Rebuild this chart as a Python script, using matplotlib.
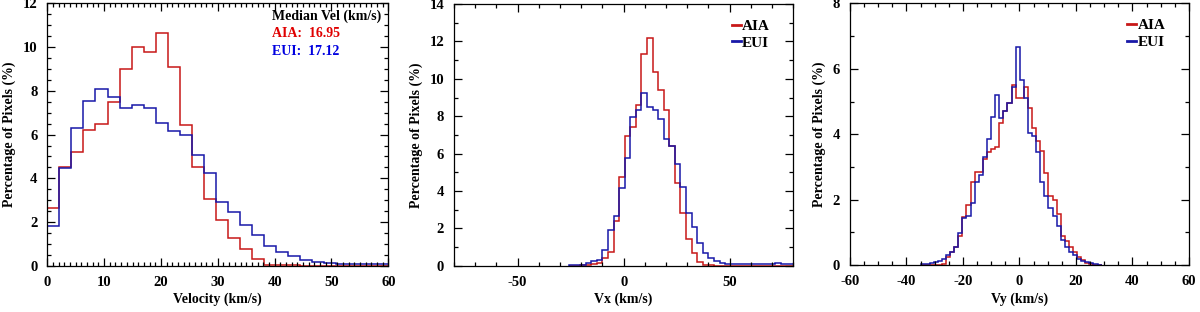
import numpy as np
import matplotlib
matplotlib.use("Agg")
import matplotlib.pyplot as plt
from matplotlib.ticker import MultipleLocator

plt.rcParams['font.family'] = ['Liberation Serif', 'DejaVu Serif']
plt.rcParams['font.weight'] = 'bold'
plt.rcParams['axes.unicode_minus'] = False

# panel 1: speed histogram (bin width ~2.12 km/s starting at 0)
vel_width = 2.12
vel_aia = [2.63, 4.53, 5.22, 6.21, 6.49, 7.51, 9.00, 10.03, 9.76, 10.64, 9.08, 6.44,
           4.53, 3.05, 2.09, 1.28, 0.79, 0.29, 0.05, 0.03, 0.02, 0.01, 0.01, 0.01,
           0.01, 0.01, 0.01, 0.01, 0.01]
vel_eui = [1.82, 4.46, 6.29, 7.56, 8.08, 7.74, 7.20, 7.34, 7.20, 6.52, 6.17, 5.98,
           5.07, 4.23, 2.90, 2.44, 1.86, 1.40, 0.92, 0.61, 0.44, 0.26, 0.18, 0.14,
           0.10, 0.08, 0.10, 0.10, 0.10]

# panel 2: Vx histogram (bin width ~2.63 km/s)
vx_start = -25.8
vx_width = 2.63
vx_aia = [0.00, 0.01, 0.03, 0.05, 0.08, 0.15, 0.40, 0.75, 2.40, 4.76, 6.93, 7.40,
          8.60, 11.35, 12.20, 10.37, 9.39, 8.36, 6.40, 4.44, 2.83, 1.46, 0.66, 0.21,
          0.05, 0.02, 0.01, 0.00, 0.00, 0.00, 0.00, 0.00, 0.00, 0.00, 0.00, 0.00,
          0.00, 0.00, 0.00, 0.00, 0.00]
vx_eui = [0.02, 0.04, 0.06, 0.15, 0.25, 0.30, 0.85, 1.90, 2.66, 4.14, 5.78, 7.95,
          8.35, 9.25, 8.47, 8.32, 7.83, 6.80, 6.40, 5.42, 4.22, 2.83, 2.09, 1.23,
          0.66, 0.40, 0.25, 0.15, 0.12, 0.10, 0.10, 0.10, 0.10, 0.08, 0.10, 0.08,
          0.12, 0.15, 0.12, 0.10, 0.10]

# panel 3: Vy histogram (bin width ~1.45 km/s)
vy_start = -34.7
vy_width = 1.45
vy_aia = [0.00, 0.00, 0.00, 0.00, 0.02, 0.05, 0.25, 0.40, 0.55, 0.90, 1.47, 1.85,
          2.55, 2.85, 2.85, 3.25, 3.45, 3.55, 3.60, 4.35, 4.70, 4.95, 5.50, 5.10,
          5.10, 5.45, 4.80, 4.20, 3.80, 3.50, 2.82, 2.10, 2.00, 1.55, 0.90, 0.75,
          0.55, 0.40, 0.25, 0.15, 0.08, 0.03, 0.01, 0.00]
vy_eui = [0.03, 0.05, 0.06, 0.10, 0.12, 0.20, 0.30, 0.40, 0.55, 0.98, 1.45, 1.50,
          1.90, 2.55, 2.75, 3.30, 3.87, 4.52, 5.20, 4.50, 4.72, 4.95, 5.45, 6.68,
          5.66, 5.10, 4.05, 3.95, 3.47, 2.55, 2.10, 1.75, 1.50, 1.20, 0.76, 0.56,
          0.41, 0.31, 0.20, 0.12, 0.10, 0.06, 0.03, 0.01]

red = '#c81818'
blue = '#1818a8'

fig = plt.figure(figsize=(12, 3.12), dpi=100)
ax1 = fig.add_axes([0.0394, 0.148, 0.2842, 0.841])
ax2 = fig.add_axes([0.3783, 0.148, 0.2828, 0.839])
ax3 = fig.add_axes([0.7083, 0.150, 0.2825, 0.839])


def edges(start, width, n):
    return start + width * np.arange(n + 1)


def style(ax, xlabel, xmaj, xmin, ymaj, ymin):
    ax.xaxis.set_major_locator(MultipleLocator(xmaj))
    ax.xaxis.set_minor_locator(MultipleLocator(xmin))
    ax.yaxis.set_major_locator(MultipleLocator(ymaj))
    ax.yaxis.set_minor_locator(MultipleLocator(ymin))
    ax.tick_params(which='both', direction='in', top=True, right=True,
                   labelsize=10.5, width=0.9, pad=7)
    ax.tick_params(which='major', length=6)
    ax.tick_params(which='minor', length=3)
    ax.set_xlabel(xlabel, fontsize=10, fontweight='bold', labelpad=3)
    ax.set_ylabel('Percentage of Pixels (%)', fontsize=10, fontweight='bold', labelpad=5)
    for s in ax.spines.values():
        s.set_linewidth(0.9)


ax1.stairs(vel_aia, edges(0, vel_width, len(vel_aia)), color=red, lw=1.1)
ax1.stairs(vel_eui, edges(0, vel_width, len(vel_eui)), color=blue, lw=1.1)
ax1.set_xlim(0, 60)
ax1.set_ylim(0, 12)
style(ax1, 'Velocity (km/s)', 10, 1, 2, 0.5)
ax1.text(0.66, 0.953, 'Median Vel (km/s)', transform=ax1.transAxes, fontsize=10,
         fontweight='bold', color='black', va='center')
ax1.text(0.66, 0.884, 'AIA:  16.95', transform=ax1.transAxes, fontsize=10,
         fontweight='bold', color='#e00000', va='center')
ax1.text(0.66, 0.818, 'EUI:  17.12', transform=ax1.transAxes, fontsize=10,
         fontweight='bold', color='#0000e0', va='center')

ax2.stairs(vx_aia, edges(vx_start, vx_width, len(vx_aia)), color=red, lw=1.1, label='AIA')
ax2.stairs(vx_eui, edges(vx_start, vx_width, len(vx_eui)), color=blue, lw=1.1, label='EUI')
ax2.set_xlim(-80, 80)
ax2.set_ylim(0, 14)
style(ax2, 'Vx (km/s)', 50, 10, 2, 1)

ax3.stairs(vy_aia, edges(vy_start, vy_width, len(vy_aia)), color=red, lw=1.1, label='AIA')
ax3.stairs(vy_eui, edges(vy_start, vy_width, len(vy_eui)), color=blue, lw=1.1, label='EUI')
ax3.set_xlim(-60, 60)
ax3.set_ylim(0, 8)
style(ax3, 'Vy (km/s)', 20, 5, 2, 1)

for ax in (ax2, ax3):
    h, l = ax.get_legend_handles_labels()
    handles = [plt.Line2D([], [], color=c, lw=2) for c in (red, blue)]
    ax.legend(handles, l, loc='upper left', bbox_to_anchor=(0.8, 0.965),
              frameon=False, handlelength=0.6, handletextpad=0.1,
              labelspacing=0.2, borderaxespad=0,
              prop={'family': 'Liberation Serif', 'weight': 'bold', 'size': 11})

fig.savefig('out.png', dpi=100)
